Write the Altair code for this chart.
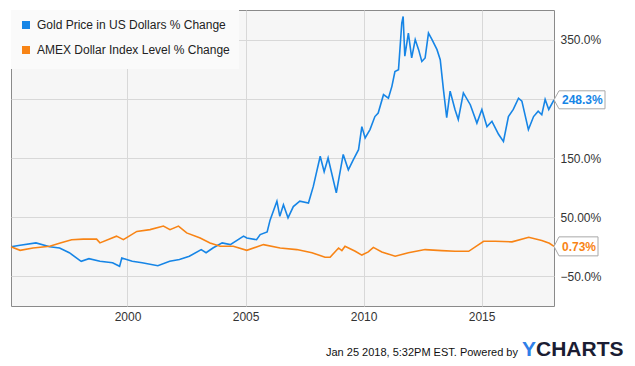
import altair as alt
import pandas as pd

series_names = ["Gold Price in US Dollars % Change", "AMEX Dollar Index Level % Change"]
series_colors = ["#1685e6", "#f88415"]

gold_dates = ["1995-01-25", "1995-06-15", "1996-02-15", "1996-09-15", "1997-02-15", "1997-07-15",
              "1998-01-15", "1998-05-15", "1998-11-01", "1999-05-15", "1999-09-01", "1999-10-05",
              "2000-03-15", "2000-08-15", "2001-04-15", "2001-10-15", "2002-03-15", "2002-08-15",
              "2003-02-15", "2003-05-01", "2003-08-15", "2004-01-05", "2004-05-10", "2004-12-01",
              "2005-01-20", "2005-06-20", "2005-08-15", "2005-12-01", "2006-01-15", "2006-05-01",
              "2006-06-15", "2006-08-10", "2006-10-20", "2007-01-10", "2007-04-20", "2007-09-01",
              "2007-11-15", "2008-03-01", "2008-05-01", "2008-07-01", "2008-11-05", "2009-02-20",
              "2009-05-10", "2009-07-25", "2009-10-15", "2009-12-05", "2010-01-25", "2010-04-10",
              "2010-06-25", "2010-08-15", "2010-11-05", "2011-01-20", "2011-03-15", "2011-05-01",
              "2011-06-25", "2011-08-15", "2011-09-05", "2011-10-01", "2011-11-25", "2012-01-15",
              "2012-03-10", "2012-05-01", "2012-06-20", "2012-08-10", "2012-10-01", "2012-11-25",
              "2013-02-10", "2013-04-01", "2013-05-20", "2013-07-10", "2013-09-01", "2013-11-15",
              "2014-01-05", "2014-03-25", "2014-07-10", "2014-10-20", "2015-01-05", "2015-03-25",
              "2015-06-10", "2015-09-20", "2015-12-05", "2016-02-20", "2016-05-05", "2016-07-25",
              "2016-09-15", "2016-12-25", "2017-03-15", "2017-05-25", "2017-07-20", "2017-09-10",
              "2017-11-05", "2018-01-25"]
gold_values = [0, 2.5, 6.6, 0, -2, -10,
               -24.5, -20, -24.5, -27, -33, -19,
               -24.5, -27, -32, -24.5, -21.6, -16,
               -4.7, -10, -2, 6.6, 3.7, 18,
               15, 12, 20.6, 25, 45, 77,
               51.5, 71, 49, 68, 77, 74,
               102, 153, 127, 150, 91, 156,
               130, 147, 164, 203, 184, 198,
               220, 226, 257, 251, 271, 296,
               299, 378, 389, 322, 361, 319,
               350, 333, 313, 319, 361, 350,
               333, 316, 266, 218, 263, 232,
               215, 260, 240, 209, 232, 203,
               212, 190, 178, 220, 232, 251,
               246, 198, 220, 229, 223, 249,
               232, 248.3]

dollar_dates = ["1995-01-25", "1995-06-15", "1996-01-01", "1996-09-15", "1997-02-25", "1997-08-20",
                "1998-02-15", "1998-09-10", "1998-11-01", "1999-07-15", "1999-10-30", "2000-05-25",
                "2000-12-15", "2001-07-10", "2001-10-20", "2002-02-28", "2002-07-05", "2003-01-30",
                "2003-07-01", "2003-12-05", "2004-06-25", "2005-01-20", "2005-10-05", "2006-06-20",
                "2007-03-05", "2007-10-25", "2008-05-15", "2008-08-01", "2008-12-10", "2009-01-30",
                "2009-03-20", "2009-08-25", "2009-12-05", "2010-03-15", "2010-06-01", "2010-10-10",
                "2011-05-05", "2011-11-25", "2012-08-10", "2013-04-25", "2013-11-15", "2014-06-15",
                "2015-02-01", "2015-08-01", "2016-04-15", "2016-12-30", "2017-07-20", "2017-11-15",
                "2018-01-25"]
dollar_values = [0, -6, -2, 1, 6.6, 12,
                 13, 13, 6.6, 18, 12, 26,
                 29, 35, 29, 35, 23.5, 15,
                 6.6, 1, 1, -6, 3.7, -2,
                 -4.7, -10, -17.6, -17.6, -2, -6.4,
                 1, -7.6, -14, -8.6, -1, -8.6,
                 -16, -10, -4.7, -6.4, -7.6, -7.6,
                 9.3, 9.3, 8.3, 16, 10.5, 6,
                 0.73]

end_labels = ["248.3%", "0.73%"]
y_ticks = [-50, 50, 150, 250, 350]
x_tick_years = [2000, 2005, 2010, 2015]
x_domain = ["1995-01-25", "2018-01-25"]
footer_text = "Jan 25 2018, 5:32PM EST.  Powered by"

df = pd.concat([
    pd.DataFrame({"date": gold_dates, "value": gold_values, "series": series_names[0]}),
    pd.DataFrame({"date": dollar_dates, "value": dollar_values, "series": series_names[1]}),
])
df_end = pd.DataFrame({
    "date": [gold_dates[-1], dollar_dates[-1]],
    "value": [gold_values[-1], dollar_values[-1]],
    "series": series_names,
    "label": end_labels,
})

FONT = "Liberation Sans"

x_enc = alt.X("date:T",
              scale=alt.Scale(domain=x_domain),
              axis=alt.Axis(values=[alt.DateTime(year=y, month=1, date=1) for y in x_tick_years],
                            format="%Y", title=None, domain=False, ticks=False,
                            labelPadding=5, gridColor="#d8d8d8", labelFontSize=12,
                            labelColor="#333333", labelFont=FONT))
y_enc = alt.Y("value:Q",
              scale=alt.Scale(domain=[-100, 400], nice=False, zero=False),
              axis=alt.Axis(orient="right", values=y_ticks, title=None, domain=False, ticks=False,
                            labelPadding=6, gridColor="#d8d8d8", labelFontSize=12,
                            labelColor="#333333", labelFont=FONT,
                            labelExpr="datum.value == 250 ? '' : (datum.value == 50 ? '50.00%' : format(datum.value, '.1f') + '%')"))
color_enc = alt.Color("series:N",
                      scale=alt.Scale(domain=series_names, range=series_colors),
                      legend=alt.Legend(title=None, orient="top-left", offset=0, padding=9,
                                        fillColor="#fafafa", symbolType="square", symbolSize=16,
                                        symbolStrokeWidth=4, labelFontSize=12, labelOffset=5,
                                        rowPadding=5, labelFont=FONT, labelColor="#222222",
                                        labelLimit=400))

lines = alt.Chart(df).mark_line(strokeWidth=1.6).encode(x=x_enc, y=y_enc, color=color_enc)

box_gold = alt.Chart(df_end.iloc[[0]]).mark_point(
    shape="M0,0 L5,-9 L51,-9 L51,9 L5,9 Z", size=4, filled=True, fill="white",
    stroke="#a8a8a8", strokeWidth=1, opacity=1).encode(x="date:T", y="value:Q")
box_dollar = alt.Chart(df_end.iloc[[1]]).mark_point(
    shape="M0,0 L5,-9.5 L44,-9.5 L44,9.5 L5,9.5 Z", size=4, filled=True, fill="white",
    stroke="#a8a8a8", strokeWidth=1, opacity=1).encode(x="date:T", y="value:Q")
end_text = alt.Chart(df_end).mark_text(align="left", dx=8, dy=0.5, fontSize=12, fontWeight="bold",
                                       font=FONT).encode(
    x="date:T", y="value:Q", text="label:N",
    color=alt.Color("series:N", scale=alt.Scale(domain=series_names, range=series_colors), legend=None))

footer = alt.Chart(pd.DataFrame({"t": [footer_text]})).mark_text(
    align="right", baseline="middle", fontSize=11, font=FONT, color="#111111").encode(
    x=alt.value(507), y=alt.value(343), text="t:N")
logo_y = alt.Chart(pd.DataFrame({"t": ["Y"]})).mark_text(
    align="left", baseline="middle", fontSize=21, fontWeight=900, font=FONT, color="#2f7fe8").encode(
    x=alt.value(511), y=alt.value(340), text="t:N")
logo_rest = alt.Chart(pd.DataFrame({"t": ["CHARTS"]})).mark_text(
    align="left", baseline="middle", fontSize=21, fontWeight=900, font=FONT, color="#1b1d33").encode(
    x=alt.value(525), y=alt.value(340), text="t:N")

chart = alt.layer(lines, box_gold, box_dollar, end_text, footer, logo_y, logo_rest).properties(
    width=543, height=296,
    padding={"left": 3, "top": 2, "right": 70, "bottom": 56},
    autosize=alt.AutoSizeParams(type="none"),
    background="white",
).configure_view(fill="#f6f6f6", stroke="#8a8a8a", strokeWidth=1)

chart.save("out.html", embed_options={"renderer": "svg", "actions": False})
